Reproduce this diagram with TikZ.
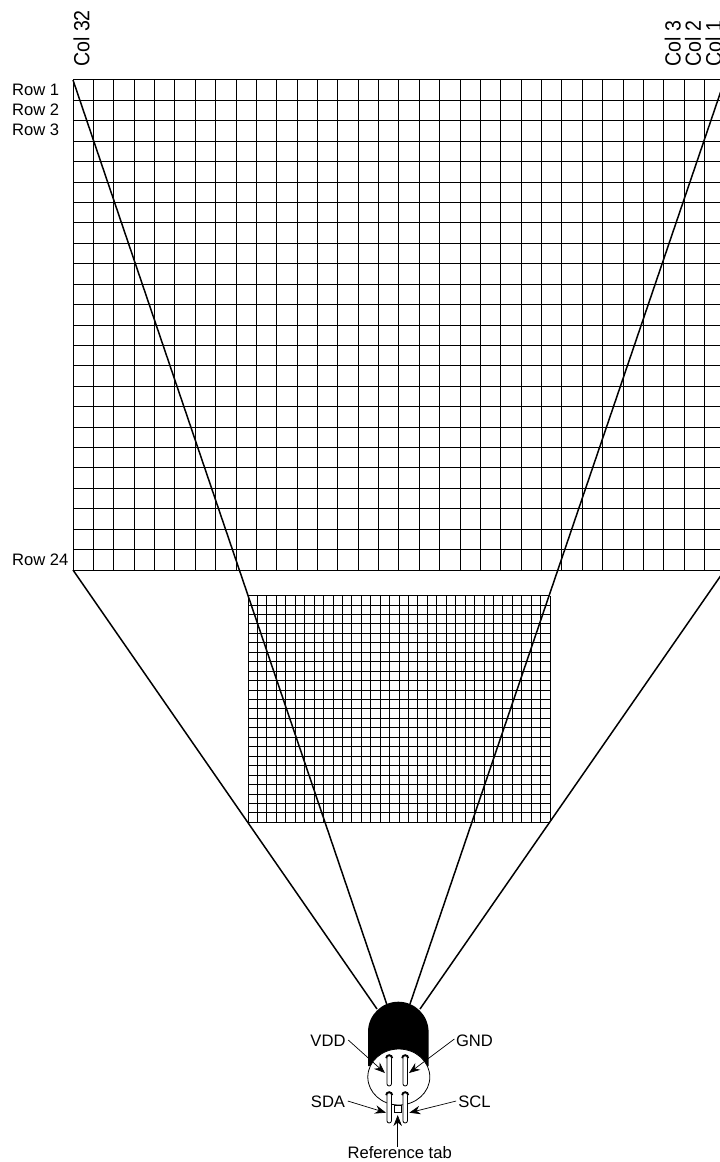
\documentclass[tikz,border=0pt]{standalone}
\usepackage{fontspec}
\setmainfont{Liberation Sans}
\usepackage{tikz}
\usetikzlibrary{positioning,arrows.meta,shapes.geometric}
\tikzset{
  gridline/.style={draw=black, line width=0.9pt},
  fanline/.style={draw=black, line width=1.5pt},
  pinlabel/.style={font=\fontsize{16.6}{18}\selectfont, inner sep=0pt},
  collabel/.style={font=\fontsize{19.6}{22}\selectfont, inner sep=0pt, rotate=90, anchor=west},
  rowlabel/.style={pinlabel, anchor=west},
  callout/.style={-{Stealth[length=11pt,width=8.5pt]}, line width=0.7pt},
  sensorpin/.style={draw, fill=white, rounded corners=2.3pt, line width=0.8pt, minimum width=4.6pt, minimum height=30pt, inner sep=0pt},
  pinhead/.style={fill=white, line width=1.9pt}
}

\begin{document}
\begin{tikzpicture}[x=1pt, y=-1pt]
  \useasboundingbox (0,0) rectangle (720,1162);

  % the two grids
  \begin{scope}[shift={(73,570)}, x=20.37pt, y=20.42pt]
    \draw[gridline, step=1] (0,0) grid (32,24);
  \end{scope}
  \begin{scope}[shift={(248,822.3)}, x=9.44pt, y=9.45pt]
    \draw[gridline, step=1] (0,0) grid (32,24);
  \end{scope}

  \coordinate (bigtl) at (73,80);
  \coordinate (bigbl) at (73,570);
  \coordinate (bigtr) at (724.7,80);
  \coordinate (bigbr) at (724.7,570);
  \coordinate (lenstl) at (386.7,1004);
  \coordinate (lensbl) at (377,1009);
  \coordinate (lenstr) at (410,1004);
  \coordinate (lensbr) at (420,1009);

  \draw[fanline] (bigtl) -- (lenstl);
  \draw[fanline] (bigbl) -- (lensbl);
  \draw[fanline] (bigtr) -- (lenstr);
  \draw[fanline] (bigbr) -- (lensbr);

  % sensor can
  \fill[black] (368,1066) -- (368,1032) arc[start angle=180, end angle=360, radius=30.3] -- (428.6,1066) -- cycle;
  \node[draw, ellipse, fill=white, line width=0.8pt, minimum width=62pt, minimum height=56pt, inner sep=0pt] (base) at (398.8,1077) {};

  \node[sensorpin] (pinvdd) at (389.2,1071) {};
  \node[sensorpin] (pingnd) at (405.2,1071) {};
  \node[sensorpin] (pinsda) at (389.2,1108) {};
  \node[sensorpin] (pinscl) at (405.2,1108) {};
  \foreach \pinname in {pinvdd,pingnd,pinsda,pinscl}
    \draw[pinhead] (\pinname.north) ++(-3,2.6) arc[start angle=180, end angle=360, radius=3];
  \node[draw, fill=white, line width=0.8pt, minimum size=7pt, inner sep=0pt] (tab) at (397.5,1109) {};

  % labels
  \node[collabel] (col32) at (81.5,67) {\scalebox{1}[1.12]{Col 32}};
  \node[collabel] (col3) at (672.7,67) {\scalebox{1}[1.12]{Col 3}};
  \node[collabel] (col2) at (693,67) {\scalebox{1}[1.12]{Col 2}};
  \node[collabel] (col1) at (713.4,67) {\scalebox{1}[1.12]{Col 1}};
  \node[rowlabel] (row1) at (12,90) {Row 1};
  \node[rowlabel] (row2) at (12,110) {Row 2};
  \node[rowlabel] (row3) at (12,130) {Row 3};
  \node[rowlabel] (row24) at (12,559.5) {Row 24};

  \node[pinlabel] (vdd) at (328,1041) {VDD};
  \node[pinlabel] (gnd) at (474.5,1041) {GND};
  \node[pinlabel] (sda) at (328,1102) {SDA};
  \node[pinlabel] (scl) at (474.5,1102) {SCL};
  \node[pinlabel] (reftab) at (399.7,1153) {Reference tab};

  \coordinate (vddtip) at (385,1073);
  \coordinate (gndtip) at (409,1073);
  \coordinate (sdatip) at (386,1112.7);
  \coordinate (scltip) at (409.3,1112.7);
  \coordinate (tabtip) at (397.7,1115);

  \draw[callout] (vdd.east) ++(2.5,-1) -- (vddtip);
  \draw[callout] (gnd.west) ++(-1.5,-2) -- (gndtip);
  \draw[callout] (sda.east) ++(2.5,-1) -- (sdatip);
  \draw[callout] (scl.west) ++(-2,-1) -- (scltip);
  \draw[callout] (reftab.north -| tabtip) -- (tabtip);
\end{tikzpicture}
\end{document}
